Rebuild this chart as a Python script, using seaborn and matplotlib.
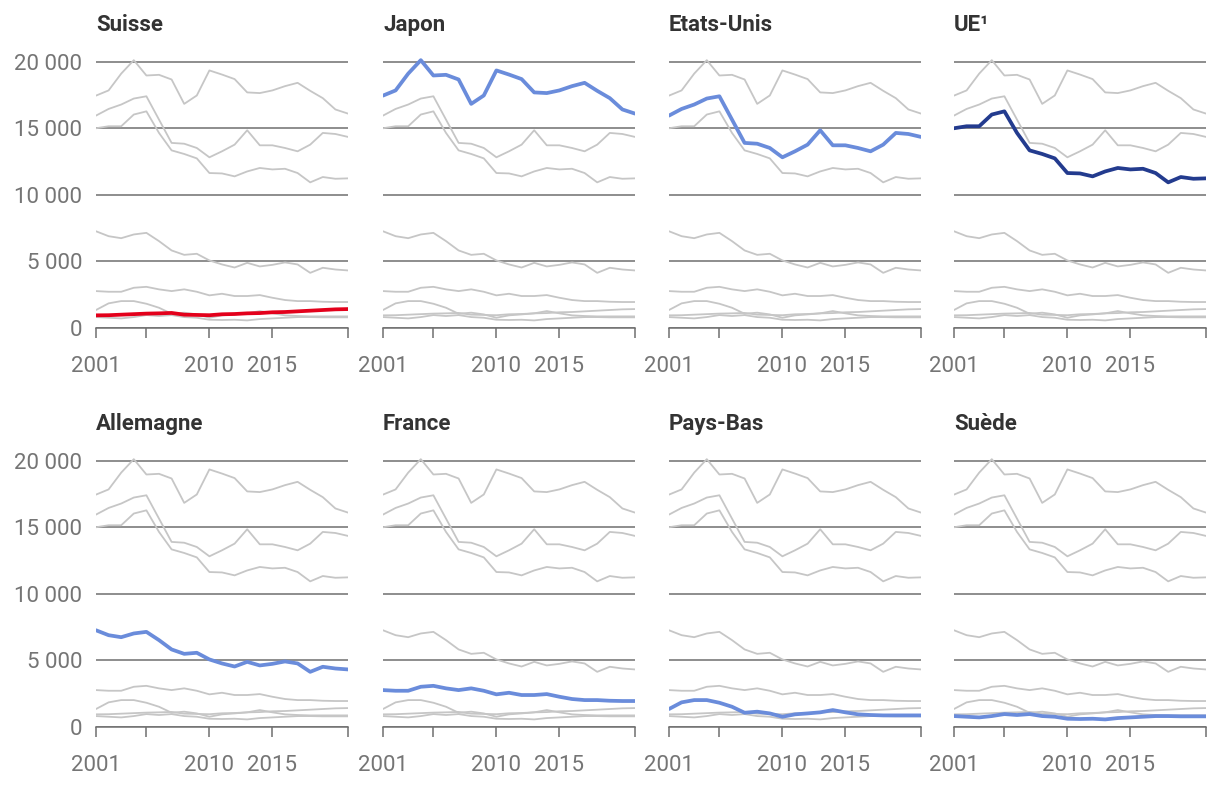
import pandas as pd
import matplotlib.pyplot as plt
import seaborn as sns

# Données, 2001-2021
annees = list(range(2001, 2022))

suisse = [950, 960, 1000, 1040, 1080, 1100, 1130, 1000, 980, 960, 1030, 1050, 1100, 1120, 1180, 1200, 1250, 1300, 1350, 1400, 1420]
japon = [17440, 17830, 19090, 20100, 18950, 19000, 18650, 16820, 17450, 19330, 19020, 18680, 17680, 17630, 17830, 18150, 18400, 17800, 17250, 16400, 16090]
etats_unis = [15940, 16440, 16770, 17220, 17390, 15640, 13890, 13830, 13510, 12810, 13260, 13760, 14840, 13710, 13710, 13510, 13260, 13760, 14640, 14560, 14340]
ue = [14990, 15140, 15140, 16020, 16260, 14640, 13330, 13060, 12730, 11630, 11600, 11380, 11750, 12010, 11900, 11950, 11630, 10930, 11330, 11200, 11230]
allemagne = [7260, 6890, 6740, 7020, 7140, 6520, 5820, 5490, 5570, 5070, 4770, 4540, 4890, 4620, 4740, 4920, 4770, 4140, 4520, 4390, 4320]
france = [2770, 2720, 2720, 3020, 3090, 2900, 2770, 2900, 2720, 2450, 2570, 2400, 2400, 2470, 2270, 2100, 2020, 2020, 1970, 1950, 1950]
pays_bas = [1350, 1850, 2020, 2020, 1820, 1520, 1070, 1150, 1020, 770, 950, 1020, 1100, 1270, 1100, 950, 900, 870, 870, 870, 870]
suede = [820, 770, 720, 820, 970, 900, 970, 820, 770, 620, 600, 620, 570, 670, 720, 770, 820, 820, 800, 800, 800]

pays = ['Suisse', 'Japon', 'Etats-Unis', 'UE¹', 'Allemagne', 'France', 'Pays-Bas', 'Suède']
series = [suisse, japon, etats_unis, ue, allemagne, france, pays_bas, suede]
couleurs = ['#e3001b', '#6a8cdb', '#6a8cdb', '#233b8e', '#6a8cdb', '#6a8cdb', '#6a8cdb', '#6a8cdb']

df = pd.DataFrame([
    {'pays': p, 'annee': a, 'valeur': v}
    for p, s in zip(pays, series) for a, v in zip(annees, s)
])

sns.set_theme(style='white')
plt.rcParams['font.family'] = ['Roboto', 'DejaVu Sans']

W, H = 1220, 788
fig = plt.figure(figsize=(W / 100, H / 100), dpi=100)

gris_grille = '#6f6f6f'
gris_ligne = '#c6c6c6'
px_par_unite = 266.5 / 20000
ymax = 21000
gauches = [96, 383, 669, 954]
zeros = [328, 727]  # position du 0 en pixels (haut de l'image)

for i, (p, c) in enumerate(zip(pays, couleurs)):
    ligne, col = divmod(i, 4)
    h = ymax * px_par_unite
    ax = fig.add_axes([gauches[col] / W, (H - zeros[ligne]) / H, 252 / W, h / H])

    autres = df[df['pays'] != p]
    sns.lineplot(data=autres, x='annee', y='valeur', units='pays', estimator=None,
                 color=gris_ligne, linewidth=1.3, ax=ax, zorder=2)
    sns.lineplot(data=df[df['pays'] == p], x='annee', y='valeur',
                 color=c, linewidth=2.7, ax=ax, zorder=4)

    ax.set_xlim(2001, 2021)
    ax.set_ylim(0, ymax)
    ax.set_xlabel('')
    ax.set_ylabel('')

    ax.set_yticks([0, 5000, 10000, 15000, 20000])
    if col == 0:
        ax.set_yticklabels(['0', '5 000', '10 000', '15 000', '20 000'])
    else:
        ax.set_yticklabels([])
    ax.set_xticks([2001, 2005, 2010, 2015, 2021])
    ax.set_xticklabels(['2001', '', '2010', '2015', ''])

    ax.yaxis.grid(True, color=gris_grille, linewidth=1.1, zorder=1)
    ax.set_axisbelow(True)
    for s in ['top', 'right', 'left']:
        ax.spines[s].set_visible(False)
    ax.spines['bottom'].set_color(gris_grille)
    ax.spines['bottom'].set_linewidth(1.1)

    ax.tick_params(axis='x', length=7.2, width=1.1, color=gris_grille, pad=13,
                   labelsize=16, labelcolor='#757575', bottom=True)
    ax.tick_params(axis='y', length=0, pad=10, labelsize=16, labelcolor='#757575')

    ax.set_title(p, loc='left', fontsize=16, fontweight='bold', color='#333333', pad=12.5)

fig.savefig('out.png', dpi=100, facecolor='white')
